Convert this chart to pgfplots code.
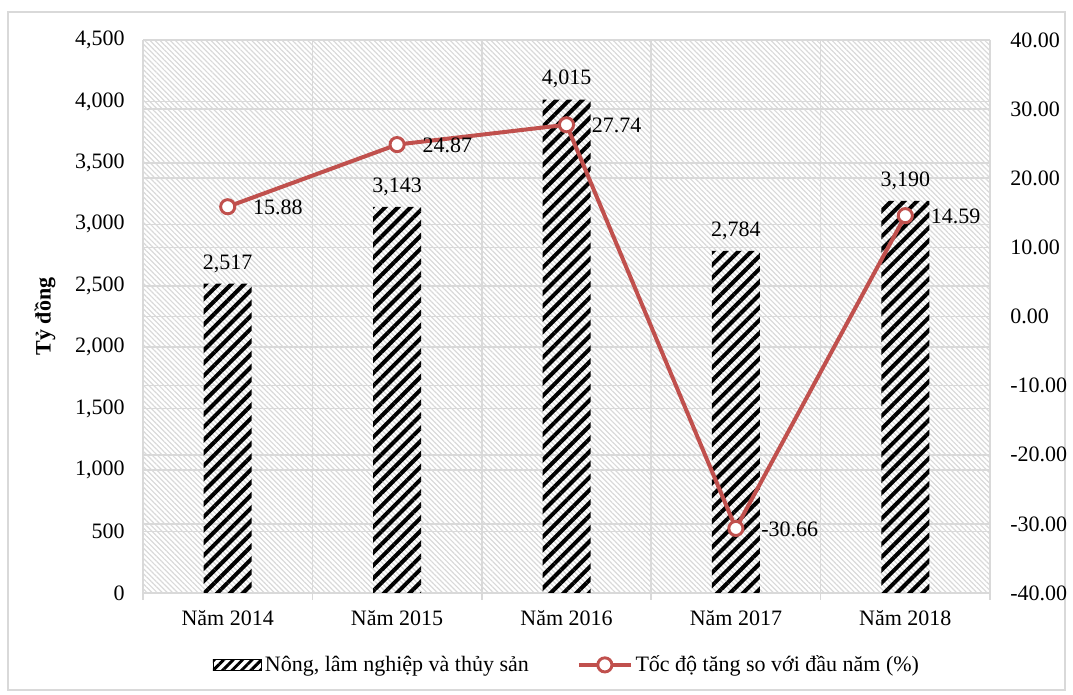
\documentclass[border=0pt]{standalone}
\usepackage{fontspec}
\setmainfont{Liberation Serif}
\usepackage{pgfplots}
\pgfplotsset{compat=1.18}
\usetikzlibrary{patterns.meta}
\definecolor{lineRed}{RGB}{192,80,77}
\definecolor{gridGray}{RGB}{217,217,217}
\pgfkeys{/pgf/number format/assume math mode=true}
\newcommand{\fs}{\fontsize{16.5}{19.8}\selectfont}
\tikzset{barpat/.style={pattern={Lines[angle=45,distance=6.8pt,line width=3pt]}, pattern color=black}}
\pgfplotsset{
  linelegend/.style={legend image code/.code={\draw[##1, mark repeat=2, mark phase=2] plot coordinates {(0pt,0pt) (19.5pt,0pt) (39pt,0pt)};}},
  barlegend/.style={legend image code/.code={\fill[pattern={Lines[angle=45,distance=5pt,line width=2.2pt]}, pattern color=black] (0pt,-4pt) rectangle (36pt,4pt);}},
}

\begin{document}
\begin{tikzpicture}[font=\fs]
\useasboundingbox (-107.25pt,-76.5pt) rectangle (697.5pt,444.75pt);
\draw[gridGray, line width=1pt] (-101.25pt,-72.75pt) rectangle (691.5pt,435.75pt);
\begin{axis}[
  at={(0,0)}, anchor=south west, scale only axis,
  width=635.25pt, height=414.75pt,
  xmin=-0.5, xmax=4.5, ymin=0, ymax=4500,
  ytick={0,500,...,4500},
  extra y ticks={562.5,1125,1687.5,2250,2812.5,3375,3937.5},
  extra y tick labels={},
  extra y tick style={grid=major, major tick length=0pt},
  xtick={0,1,2,3,4},
  xticklabels={Năm 2014,Năm 2015,Năm 2016,Năm 2017,Năm 2018},
  minor xtick={-0.5,0.5,1.5,2.5,3.5,4.5},
  xminorgrids, ymajorgrids,
  grid style={gridGray, line width=1.2pt},
  minor grid style={gridGray, line width=1.2pt},
  major tick length=0pt, minor tick length=5pt, tick align=outside,
  minor tick style={gridGray, line width=1.2pt},
  xtick pos=bottom, ytick pos=left,
  axis line style={draw=none},
  axis background/.style={pattern={Lines[angle=-45,distance=2.7pt,line width=0.9pt]}, pattern color=black!15},
  tick label style={font=\fs, text=black},
  yticklabel style={inner sep=0pt, anchor=east, xshift=-13.5pt, /pgf/number format/1000 sep={,}},
  xticklabel style={inner sep=0pt, anchor=north, yshift=-13pt},
  ylabel={\textbf{Tỷ đồng}},
  every axis y label/.style={at={(axis description cs:-0.1157,0.5)}, rotate=90, anchor=center, font=\fs},
]
\addplot[ybar, bar width=36pt, draw=none, barpat,
  nodes near coords={\pgfmathprintnumber[1000 sep={,}]{\pgfplotspointmeta}},
  nodes near coords style={anchor=base, yshift=11pt, inner sep=0pt, text=black, font=\fs}]
  coordinates {(0,2517) (1,3143) (2,4015) (3,2784) (4,3190)};
\end{axis}
\begin{axis}[
  at={(0,0)}, anchor=south west, scale only axis,
  width=635.25pt, height=414.75pt,
  xmin=-0.5, xmax=4.5, ymin=-40, ymax=40,
  ytick={-40,-30,-20,-10,0,10,20,30,40},
  axis y line*=right, axis x line=none,
  axis line style={draw=none},
  major tick length=0pt,
  tick label style={font=\fs, text=black},
  yticklabel={\pgfmathprintnumber[fixed,fixed zerofill,precision=2]{\tick}},
  yticklabel style={inner sep=0pt, anchor=west, xshift=15pt},
  legend style={at={(0.5,-0.13)}, anchor=center, draw=none, fill=none,
    legend columns=2, font=\fs,
    /tikz/every even column/.append style={column sep=34pt}},
]
\addlegendimage{barlegend}
\addlegendentry{Nông, lâm nghiệp và thủy sản}
\addplot[lineRed, line width=3pt, mark=*, mark size=5.3pt,
  mark options={fill=white, draw=lineRed, line width=2.2pt},
  nodes near coords={\pgfmathprintnumber[fixed,fixed zerofill,precision=2]{\pgfplotspointmeta}},
  nodes near coords style={anchor=base west, xshift=18pt, yshift=-6pt, inner sep=0pt, text=black, font=\fs},
  linelegend]
  coordinates {(0,15.88) (1,24.87) (2,27.74) (3,-30.66) (4,14.59)};
\addlegendentry{Tốc độ tăng so với đầu năm (\%)}
\end{axis}
\end{tikzpicture}
\end{document}
